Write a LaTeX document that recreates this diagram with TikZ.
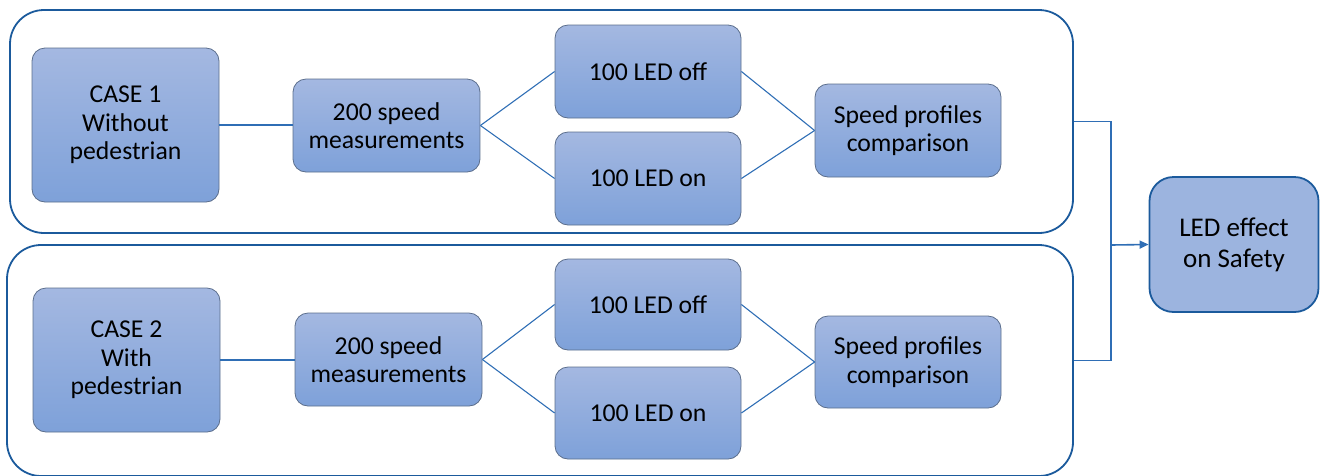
\documentclass[tikz,border=0pt]{standalone}
\usepackage{fontspec}
\setmainfont{Carlito}
\usetikzlibrary{arrows.meta}
\definecolor{framec}{HTML}{1B5A9C}
\definecolor{linec}{HTML}{2F6EB5}
\definecolor{boxtop}{HTML}{A4B8E1}
\definecolor{boxbot}{HTML}{7EA1D9}
\definecolor{boxedge}{HTML}{5B6E8C}
\definecolor{ledfill}{HTML}{9CB4DF}
\tikzset{
  stepbox/.style={draw=boxedge, line width=0.8pt, rounded corners=13pt,
    top color=boxtop, bottom color=boxbot, align=center,
    inner sep=0pt, font=\fontsize{25.7}{28.5}\selectfont},
  framebox/.style={draw=framec, line width=1.8pt, rounded corners=34pt, inner sep=0pt},
  conn/.style={draw=linec, line width=1.1pt},
  ledbox/.style={draw=framec, line width=1.8pt, rounded corners=24pt, fill=ledfill,
    align=center, inner sep=0pt, font=\fontsize{27}{31}\selectfont}
}
\begin{document}
\begin{tikzpicture}[x=1pt,y=-1pt]
\useasboundingbox (0,0) rectangle (1320,475);
\clip (0,0) rectangle (1320,475);
% frames
\node[framebox, minimum width=1063pt, minimum height=223pt] (f1) at (541.5,121.5) {};
\node[framebox, minimum width=1066pt, minimum height=231pt] (f2) at (540,360.5) {};
% top row
\node[stepbox, minimum width=187pt, minimum height=154pt] (case1) at (125.5,125) {CASE 1\\Without\\pedestrian};
\node[stepbox, minimum width=187pt, minimum height=93pt] (sp1) at (386.5,125.5) {200 speed\\measurements};
\node[stepbox, minimum width=186pt, minimum height=93pt] (off1) at (648,71.5) {100 LED off};
\node[stepbox, minimum width=186pt, minimum height=93pt] (on1) at (648,178.5) {100 LED on};
\node[stepbox, minimum width=186pt, minimum height=93pt] (cmp1) at (908,130.5) {Speed profiles\\comparison};
% bottom row
\node[stepbox, minimum width=187pt, minimum height=144pt] (case2) at (126.5,360) {CASE 2\\With\\pedestrian};
\node[stepbox, minimum width=187pt, minimum height=93pt] (sp2) at (388.5,359.5) {200 speed\\measurements};
\node[stepbox, minimum width=186pt, minimum height=91pt] (off2) at (648,304.5) {100 LED off};
\node[stepbox, minimum width=186pt, minimum height=92pt] (on2) at (648,413) {100 LED on};
\node[stepbox, minimum width=186pt, minimum height=92pt] (cmp2) at (908,362) {Speed profiles\\comparison};
% result
\node[ledbox, minimum width=169pt, minimum height=135pt] (led) at (1234,244.5) {LED effect\\on Safety};
% connectors
\draw[conn] (case1.east) -- (case1.east -| sp1.west);
\draw[conn] (sp1.east) -- (off1.west);
\draw[conn] (sp1.east) -- (on1.west);
\draw[conn] (off1.east) -- (cmp1.west);
\draw[conn] (on1.east) -- (cmp1.west);
\draw[conn] (case2.east) -- (case2.east -| sp2.west);
\draw[conn] (sp2.east) -- (off2.west);
\draw[conn] (sp2.east) -- (on2.west);
\draw[conn] (off2.east) -- (cmp2.west);
\draw[conn] (on2.east) -- (cmp2.west);
\coordinate (j) at (1111,245);
\draw[conn, line width=1.6pt] (f1.east) -- (f1.east -| j) -- (f2.east -| j) -- (f2.east);
\draw[conn, line width=1.6pt, -{Triangle[length=9pt,width=8pt]}] (j) -- (led.west);
\end{tikzpicture}
\end{document}
